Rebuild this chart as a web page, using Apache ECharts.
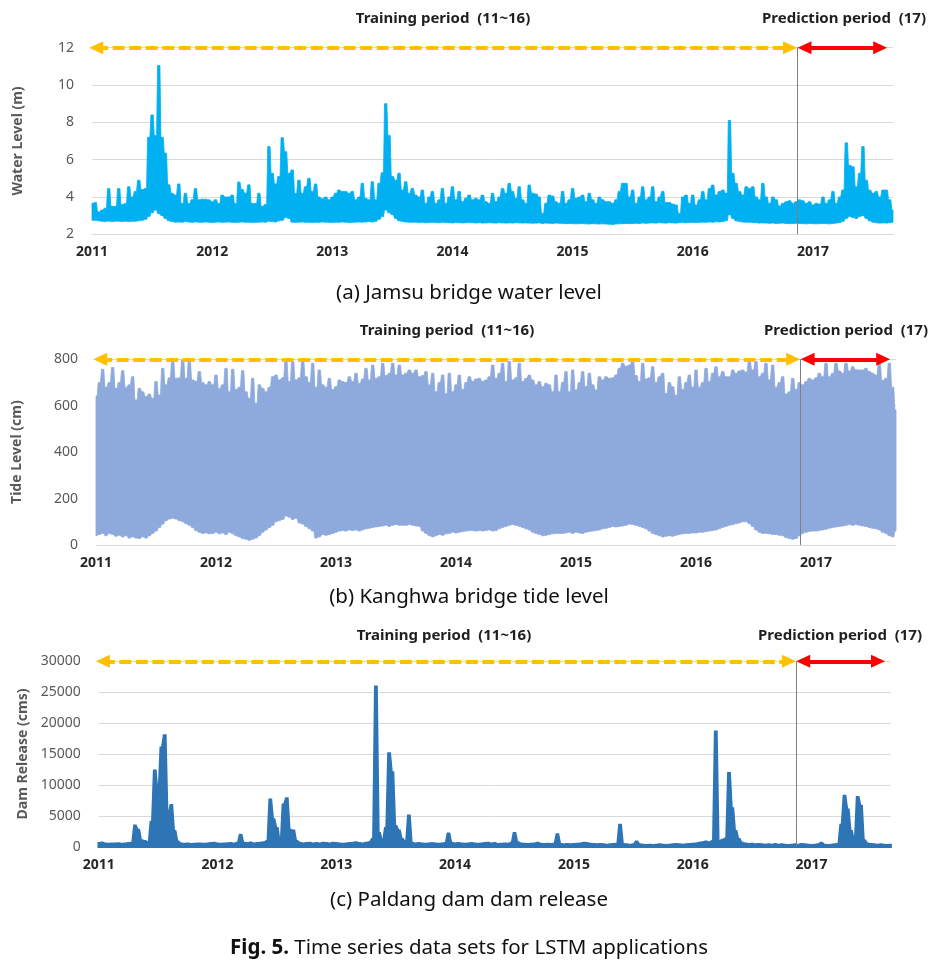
<!DOCTYPE html>
<html>
<head>
<meta charset="utf-8">
<script src="https://cdn.jsdelivr.net/npm/echarts@6/dist/echarts.min.js"></script>
<style>
html,body{margin:0;padding:0;background:#fff;}
#chart{width:946px;height:964px;}
</style>
</head>
<body>
<div id="chart"></div>
<script>
// ---------- time base (samples every 1/36 year starting Jan 2011) ----------
const YEAR_START = 2011;
const STEP = 1 / 36;
const YEAR_END = 2011 + 240 / 36;
const yearLabels = [2011, 2012, 2013, 2014, 2015, 2016, 2017];

// annotation positions (fractional year)
const PRED_LINE = 2016.87;
const TRAIN_FROM = 2011.035, TRAIN_TO = 2016.81;
const PRED_FROM = 2016.93, PRED_TO = 2017.56;

const trainText = 'Training period  (11~16)';
const predText = 'Prediction period  (17)';
const captions = ['(a) Jamsu bridge water level', '(b) Kanghwa bridge tide level', '(c) Paldang dam dam release'];
const figCaption = 'Time series data sets for LSTM applications';
const yNames = ['Water Level (m)', 'Tide Level (cm)', 'Dam Release (cms)'];

// ---------- (a) Jamsu bridge water level (m): upper / lower envelope ----------
const jamsuHigh = [
3.66,3.7,3.2,3.3,3.4,4.45,3.5,3.5,4.45,3.6,
3.65,4.55,4.0,4.3,4.9,4.4,4.45,7.2,8.4,7.3,
11.05,7.2,6.35,4.65,4.2,4.1,4.7,3.65,4.2,3.65,
3.85,4.45,3.85,3.88,3.88,3.85,3.75,3.85,3.65,4.1,
4.0,4.0,4.1,3.65,4.8,4.4,4.2,4.65,3.65,3.65,
4.2,3.5,3.6,6.7,5.27,4.7,5.1,7.18,6.43,5.27,
5.45,4.2,4.9,4.2,4.55,5.0,4.3,4.7,4.0,3.9,
4.0,3.85,4.0,4.2,4.37,4.3,4.3,4.2,4.3,3.85,
4.0,
4.73,3.93,3.85,4.82,3.85,4.73,5.3,9.0,7.3,5.1,
4.9,5.27,4.37,4.82,4.2,4.46,4.1,4.0,4.37,3.66,
4.0,4.3,3.66,3.85,4.46,3.66,4.0,4.55,3.85,4.3,
3.75,3.93,4.1,3.85,3.93,3.85,4.1,3.75,3.66,4.2,
3.75,4.0,4.46,4.2,4.73,4.3,3.93,4.55,3.85,3.66,
4.64,4.2,4.16,4.0,3.12,3.66,4.1,4.05,3.75,3.66,
4.3,3.66,3.85,4.46,3.93,4.0,4.1,3.75,4.2,3.85,
3.66,4.0,3.85,3.75,3.75,3.66,3.85,4.3,4.73,
4.73,4.0,4.37,3.66,4.0,4.55,3.85,4.0,4.55,3.75,
4.0,4.3,3.7,3.7,3.62,3.57,3.12,4.0,4.1,3.66,
4.1,3.57,3.85,4.3,3.85,4.46,4.64,4.1,4.3,4.37,
4.2,8.1,5.27,4.73,4.3,4.1,4.55,4.46,4.55,4.0,
3.85,4.73,4.0,3.66,4.0,3.85,3.52,3.66,3.75,3.8,
3.66,3.75,3.85,3.8,3.66,3.75,3.57,3.66,3.62,4.0,
3.66,3.85,4.3,3.66,4.0,4.37,6.9,5.7,5.62,4.55,
5.27,6.7,4.9,4.37,4.2,4.3,4.0,4.37,4.37,3.85,
3.3
];
const jamsuLow = [
2.75,2.75,2.72,2.7,2.68,2.7,2.68,2.7,2.7,2.68,2.7,2.68,2.7,2.7,2.72,2.75,2.8,
2.95,3.15,3.3,3.1,3.0,2.85,
2.72,2.68,2.65,2.66,2.65,2.68,2.66,2.64,2.66,2.65,
2.64,2.66,2.65,2.63,2.65,2.66,2.64,2.65,2.66,2.64,
2.63,2.65,2.66,2.64,2.65,2.63,2.64,2.65,2.66,2.65,
2.7,2.68,2.66,2.72,2.75,2.9,2.85,2.65,2.64,2.65,
2.66,2.64,2.65,2.63,2.65,2.64,2.66,2.65,2.64,2.63,
2.65,2.64,2.66,2.65,2.63,2.64,2.65,
2.66,2.65,2.66,2.68,2.66,2.7,2.8,2.95,3.3,3.15,3.05,2.85,2.72,
2.68,2.66,2.65,2.64,2.65,2.63,2.64,2.62,2.63,2.64,
2.63,2.62,2.64,2.63,2.62,2.61,2.63,2.62,2.61,2.62,
2.63,2.62,2.61,2.62,2.6,2.61,2.62,2.61,2.6,2.62,
2.61,2.6,2.61,2.6,2.62,2.61,2.6,2.61,2.6,2.59,
2.6,2.61,2.58,2.6,2.59,2.58,2.6,2.59,2.58,2.57,
2.58,2.57,2.56,2.57,2.58,2.56,2.55,2.57,2.56,2.55,
2.56,2.55,2.54,2.53,2.55,2.56,2.57,
2.58,2.57,2.58,2.59,2.58,2.6,2.59,2.6,2.61,2.6,
2.62,2.61,2.6,2.62,2.61,2.6,2.62,2.63,2.62,2.63,
2.64,2.63,2.64,2.65,2.64,2.66,2.65,2.67,2.66,2.68,
2.72,
3.05,2.85,
2.72,2.68,2.66,2.65,2.64,2.63,2.62,2.6,2.61,2.6,
2.59,2.6,2.58,2.59,2.6,2.58,2.57,2.58,2.59,2.58,
2.57,2.56,2.58,2.57,2.56,2.57,2.58,2.57,2.56,2.58,
2.6,2.62,
2.7,2.85,2.95,2.9,2.85,2.95,3.0,2.85,2.72,2.65,2.62,2.6,2.61,2.6,2.62,2.64
];

// ---------- (b) Kanghwa bridge tide level (cm): upper / lower envelope ----------
const tideHigh = [
642,700,757,680,700,765,675,700,751,680,
690,725,625,675,660,640,650,632,704,646,
761,690,720,797,718,720,797,718,790,711,
705,747,700,690,704,690,732,675,690,761,
660,757,670,680,751,660,632,718,610,690,
675,660,680,725,732,711,720,790,704,790,
711,720,797,725,700,783,680,754,690,680,
718,670,682,711,704,700,725,704,740,697,
715,761,711,775,718,725,783,730,740,783,
732,775,732,740,754,740,754,725,730,747,
690,740,660,700,732,652,740,660,690,732,
670,700,725,705,715,718,705,711,725,775,
718,740,783,704,790,711,720,783,704,718,
732,711,690,704,682,697,690,660,732,660,
700,747,660,754,668,700,747,682,740,690,
668,725,711,725,718,720,732,761,783,770,
775,790,730,704,783,715,720,768,700,725,
740,653,700,682,645,725,670,700,732,680,
754,680,700,761,704,740,768,725,747,725,
725,754,740,750,754,745,790,754,790,725,
740,783,711,775,680,700,725,650,660,718,
670,700,690,704,718,711,720,740,725,783,
725,740,783,750,740,783,750,768,755,754,
754,761,747,740,732,783,710,718,783,680,
582
];
const tideLow = [
40,45,50,40,50,45,38,42,35,40,
30,35,30,28,35,30,40,50,60,75,
90,105,112,115,112,105,100,92,85,75,
62,55,50,52,48,50,55,48,52,45,
55,48,40,35,28,25,20,25,30,40,
55,65,75,85,100,105,110,125,120,110,
115,95,90,80,70,60,30,35,45,42,
45,50,55,60,62,60,65,62,65,60,
65,70,72,75,78,80,82,85,80,85,
88,85,85,85,88,85,82,80,60,50,
40,35,40,45,42,48,50,55,52,55,
58,60,62,62,60,62,60,62,65,60,
62,70,75,80,85,88,85,80,75,70,
65,55,50,45,40,42,45,48,50,50,
50,52,55,50,55,52,50,55,58,60,
62,65,70,72,75,80,78,80,82,85,
90,88,85,80,75,70,60,50,45,40,
35,38,40,38,42,45,48,50,50,52,
52,55,55,58,60,62,65,70,75,80,
85,88,92,95,100,100,92,80,65,55,
50,50,48,45,45,42,40,32,28,25,
28,40,50,55,58,60,60,62,65,68,
72,75,78,80,82,85,88,85,88,85,
82,80,75,72,70,65,55,50,40,35,
60
];

// ---------- (c) Paldang dam release (cms) ----------
const damRelease = [
550,650,500,450,500,480,520,450,500,550,
600,3400,2700,1000,900,700,4000,12300,8800,16000,
18000,5000,6700,2500,800,500,450,500,420,450,
500,480,450,500,550,600,500,450,500,520,
550,500,600,1900,600,550,650,500,550,600,
700,900,7600,4400,3000,600,6800,7800,2700,2600,
900,600,500,550,600,500,550,500,600,550,
500,600,550,500,450,500,550,600,700,550,
500,600,700,1200,25900,2200,800,3000,15100,12000,
3300,2600,1200,700,5000,600,500,550,500,450,
500,550,500,450,500,550,2100,600,500,550,
500,450,500,550,500,450,500,550,600,500,
550,400,450,500,450,600,2200,700,500,450,
400,450,500,600,450,400,450,400,450,2000,
400,350,400,350,400,450,500,600,550,450,
400,350,400,350,300,350,400,450,3500,400,
350,300,350,800,350,300,250,300,250,300,
350,300,250,300,350,400,350,300,350,400,
450,500,600,700,800,700,900,18600,800,1100,
1300,11900,6200,2500,1200,600,500,400,450,350,
400,350,300,350,300,400,300,350,300,250,
300,350,300,400,350,300,250,300,350,600,
300,250,300,350,400,3500,8200,6000,2500,1000,
8000,6600,1000,500,400,350,300,350,300,250,
300
];

// ---------- helpers ----------
const FONT = '"Noto Sans", "DejaVu Sans", sans-serif';
function xOf(i) { return YEAR_START + i * STEP; }

const grids = [
  { left: 92, top: 47.7, width: 801, height: 186.6 },
  { left: 96, top: 359.3, width: 800, height: 185.7 },
  { left: 98.7, top: 661.3, width: 792, height: 185.4 }
];
const yCfg = [
  { min: 2, max: 12, interval: 2, gap: 67 },
  { min: 0, max: 800, interval: 200, gap: 72 },
  { min: 0, max: 30000, interval: 5000, gap: 69 }
];

const xAxes = grids.map((g, k) => ({
  type: 'value', gridIndex: k, min: YEAR_START, max: YEAR_END, interval: 1,
  axisLine: { show: true, lineStyle: { color: '#d9d9d9', width: 1 } },
  axisTick: { show: false },
  splitLine: { show: false },
  axisLabel: {
    margin: 11, color: '#262626', fontWeight: 'bold', fontSize: 14, fontFamily: FONT,
    showMaxLabel: false,
    formatter: v => (yearLabels.indexOf(Math.round(v)) >= 0 && Math.abs(v - Math.round(v)) < 1e-6) ? String(Math.round(v)) : ''
  }
}));
const yAxes = yCfg.map((c, k) => ({
  type: 'value', gridIndex: k, min: c.min, max: c.max, interval: c.interval,
  name: yNames[k], nameLocation: 'middle', nameGap: c.gap,
  nameTextStyle: { fontWeight: 'bold', fontSize: 14, color: '#595959', fontFamily: FONT },
  axisLine: { show: false }, axisTick: { show: false },
  splitLine: { show: true, lineStyle: { color: '#d9d9d9', width: 1 } },
  axisLabel: { margin: 18, color: '#595959', fontSize: 14, fontFamily: FONT, formatter: v => String(v) }
}));

function annotation(k) {
  const top = yCfg[k].max;
  return {
    type: 'line', xAxisIndex: k, yAxisIndex: k, data: [], silent: true, z: 10,
    markLine: {
      silent: true, animation: false, label: { show: false },
      symbol: ['triangle', 'triangle'], symbolSize: [13, 14],
      emphasis: { disabled: true },
      data: [
        [{ coord: [TRAIN_FROM, top], lineStyle: { color: '#FFC000', width: 4, type: [12, 4.5], cap: 'butt' }, itemStyle: { color: '#FFC000' } },
         { coord: [TRAIN_TO, top] }],
        [{ coord: [PRED_FROM, top], lineStyle: { color: '#FF0000', width: 4, type: 'solid' }, itemStyle: { color: '#FF0000' } },
         { coord: [PRED_TO, top] }]
      ]
    }
  };
}
function predLine(k) {
  return {
    type: 'line', xAxisIndex: k, yAxisIndex: k, data: [], silent: true, z: 9,
    markLine: {
      silent: true, animation: false, label: { show: false }, symbol: ['none', 'none'],
      emphasis: { disabled: true },
      lineStyle: { color: '#7f7f7f', width: 1, type: 'solid' },
      data: [{ xAxis: PRED_LINE }]
    }
  };
}
// band between a lower and an upper series (each sample held over its own
// time slot), drawn as one polygon through the axis scales
function band(k, high, low, color, half, strokeW) {
  return {
    type: 'custom', coordinateSystem: 'cartesian2d', xAxisIndex: k, yAxisIndex: k,
    data: [[xOf(0), high[0]]], silent: true, z: 2,
    renderItem: function (params, api) {
      const pts = [];
      const n = high.length;
      const lowAt = i => (Array.isArray(low) ? low[i] : low);
      const lo = i => Math.max(YEAR_START, xOf(i) - STEP * half);
      const hi = i => Math.min(YEAR_END, xOf(i) + STEP * half);
      for (let i = 0; i < n; i++) {
        pts.push(api.coord([lo(i), high[i]]));
        pts.push(api.coord([hi(i), high[i]]));
      }
      for (let i = n - 1; i >= 0; i--) {
        pts.push(api.coord([hi(i), lowAt(i)]));
        pts.push(api.coord([lo(i), lowAt(i)]));
      }
      return { type: 'polygon', shape: { points: pts },
        style: { fill: color, stroke: color, lineWidth: strokeW, lineJoin: 'miter' } };
    }
  };
}

const series = [
  band(0, jamsuHigh, jamsuLow, '#00B0F0', 0.35, 0.8),
  band(1, tideHigh, tideLow, '#8EA9DB', 0.35, 0.8),
  band(2, damRelease, 0, '#2E75B6', 0.22, 2.4),
  annotation(0), annotation(1), annotation(2), predLine(0), predLine(1), predLine(2)
];

function txt(x, y, text, size, weight, color) {
  return { type: 'text', x: x, y: y, silent: true, z: 100,
    style: { text: text, fontSize: size, fontWeight: weight, fontFamily: FONT, fill: color,
      align: 'center', verticalAlign: 'middle', textAlign: 'center', textVerticalAlign: 'middle' } };
}
const titleY = [18.5, 331, 636];
const trainX = [443, 447, 444];
const predX = [844, 846, 840];
const capY = [293, 597, 900];
const elements = [];
for (let k = 0; k < 3; k++) {
  elements.push(txt(trainX[k], titleY[k], trainText, 15, 'bold', '#1f1f1f'));
  elements.push(txt(predX[k], titleY[k], predText, 15, 'bold', '#1f1f1f'));
  elements.push(txt(469, capY[k], captions[k], 20.5, 'normal', '#111111'));
}
elements.push({ type: 'text', x: 469, y: 948, silent: true, z: 100,
  style: { text: '{b|Fig. 5.} ' + figCaption, fontSize: 20.5, fontFamily: FONT, fill: '#111111',
    align: 'center', verticalAlign: 'middle', textAlign: 'center', textVerticalAlign: 'middle',
    rich: { b: { fontWeight: 'bold', fontSize: 20.5, fontFamily: FONT, fill: '#111111' } } } });

const chart = echarts.init(document.getElementById('chart'), null, { renderer: 'canvas' });
chart.setOption({
  animation: false,
  backgroundColor: '#ffffff',
  grid: grids.map(g => Object.assign({ containLabel: false, outerBoundsMode: 'none' }, g)),
  xAxis: xAxes,
  yAxis: yAxes,
  series: series,
  graphic: { elements: elements }
});
</script>
</body>
</html>
